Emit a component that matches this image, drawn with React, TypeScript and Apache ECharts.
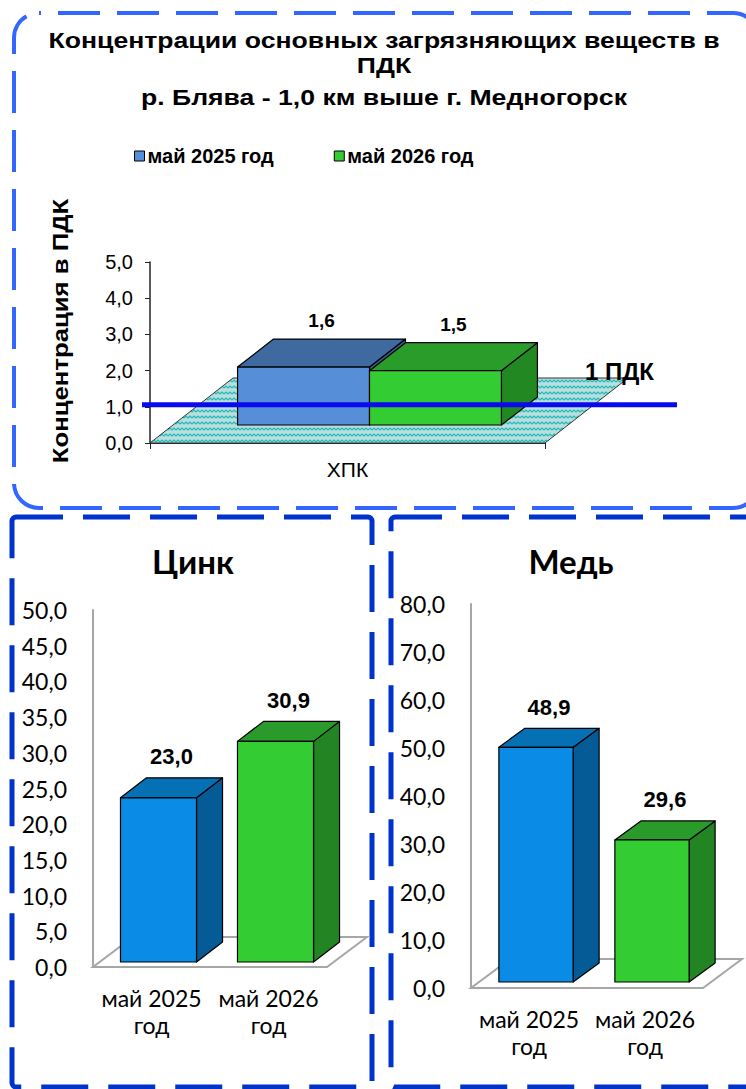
import React, { useEffect, useRef } from 'react';
import * as echarts from 'echarts';

// ---- data ----
const titleMain = 'Концентрации основных загрязняющих веществ в\nПДК';
const titleSub = 'р. Блява - 1,0 км выше г. Медногорск';
const seriesNames = ['май 2025 год', 'май 2026 год'];
const pdkAxisName = 'Концентрация в ПДК';
const pdkCategories = ['ХПК'];
const pdk2025 = [1.6];
const pdk2026 = [1.5];
const pdkLimit = 1;
const pdkLimitLabel = '1 ПДК';

const zincTitle = 'Цинк';
const zincCategories = ['май 2025\nгод', 'май 2026\nгод'];
const zincValues = [23.0, 30.9];

const copperTitle = 'Медь';
const copperCategories = ['май 2025\nгод', 'май 2026\nгод'];
const copperValues = [48.9, 29.6];

// ---- styles ----
const ARIAL = '"Liberation Sans", Arial, sans-serif';
const CALIBRI = 'Lato, "Open Sans", sans-serif';

const pdkColors = [
  { front: '#568fd8', top: '#3f6aa0', side: '#355d90' },
  { front: '#33cc33', top: '#2a9c2a', side: '#228822' },
];
const metalColors = [
  { front: '#0a8ce6', top: '#0670b5', side: '#045b96' },
  { front: '#33cc33', top: '#2a9a2a', side: '#228422' },
];

const fmt = (v: number) => v.toFixed(1).replace('.', ',');

function floorPattern() {
  const c = document.createElement('canvas');
  c.width = 8;
  c.height = 6;
  const g = c.getContext('2d')!;
  g.fillStyle = '#b8dede';
  g.fillRect(0, 0, 8, 6);
  g.strokeStyle = '#1fbaba';
  g.lineWidth = 1.2;
  g.beginPath();
  g.moveTo(0, 4);
  g.lineTo(2, 2);
  g.lineTo(4, 4);
  g.lineTo(6, 2);
  g.lineTo(8, 4);
  g.stroke();
  return { image: c.toDataURL(), repeat: 'repeat', imageWidth: 8, imageHeight: 6 };
}

type BoxCfg = {
  ratio: number; // bar width as share of the category band
  slots: number; // bars per category
  slot: number; // this bar's slot
  offX: number; // bar set back from the front plane
  offY: number;
  depX: number; // bar depth
  depY: number;
  colors: (dataIndex: number) => { front: string; top: string; side: string };
  label: { size: number; gap: number; family: string };
};

function boxRenderer(cfg: BoxCfg) {
  return (params: any, api: any) => {
    const cat = api.value(0);
    const v = api.value(1);
    const base = api.coord([cat, 0]);
    const tip = api.coord([cat, v]);
    const band = api.size([1, 0])[0];
    const w = band * cfg.ratio;
    const x0 = base[0] - (w * cfg.slots) / 2 + cfg.slot * w + cfg.offX;
    const x1 = x0 + w;
    const yb = base[1] - cfg.offY;
    const yt = tip[1] - cfg.offY;
    const dx = cfg.depX;
    const dy = cfg.depY;
    const c = cfg.colors(params.dataIndex);
    const edge = { stroke: '#000', lineWidth: 1.2, lineJoin: 'round' };
    return {
      type: 'group',
      children: [
        {
          type: 'polygon',
          shape: { points: [[x1, yb], [x1 + dx, yb - dy], [x1 + dx, yt - dy], [x1, yt]] },
          style: { fill: c.side, ...edge },
        },
        {
          type: 'polygon',
          shape: { points: [[x0, yt], [x0 + dx, yt - dy], [x1 + dx, yt - dy], [x1, yt]] },
          style: { fill: c.top, ...edge },
        },
        {
          type: 'rect',
          shape: { x: x0, y: yt, width: w, height: yb - yt },
          style: { fill: c.front, ...edge },
        },
        {
          type: 'text',
          x: (x0 + x1) / 2 + dx / 2,
          y: yt - dy - cfg.label.gap,
          style: {
            text: fmt(v),
            fontSize: cfg.label.size,
            fontWeight: 'bold',
            fontFamily: cfg.label.family,
            fill: '#000',
            align: 'center',
            verticalAlign: 'bottom',
          },
        },
      ],
    };
  };
}

function floorRenderer(depX: number, depY: number, style: any) {
  return (params: any) => {
    const r = params.coordSys;
    const yb = r.y + r.height;
    return {
      type: 'polygon',
      shape: {
        points: [
          [r.x, yb],
          [r.x + r.width, yb],
          [r.x + r.width + depX, yb - depY],
          [r.x + depX, yb - depY],
        ],
      },
      style,
    };
  };
}

export default function App() {
  const ref = useRef<HTMLDivElement>(null);

  useEffect(() => {
    if (!ref.current) return;
    const chart = echarts.init(ref.current, undefined, { renderer: 'svg' });

    const metalYAxis = (grid: number, max: number, interval: number) => ({
      type: 'value',
      gridIndex: grid,
      min: 0,
      max,
      interval,
      axisLine: { show: true, lineStyle: { color: '#a6a6a6', width: 2 } },
      axisTick: { show: false },
      splitLine: { show: false },
      axisLabel: {
        formatter: fmt,
        fontSize: 23,
        fontFamily: CALIBRI,
        color: '#000',
        margin: 26,
      },
    });
    const metalXAxis = (grid: number, data: string[]) => ({
      type: 'category',
      gridIndex: grid,
      data,
      axisLine: { show: false },
      axisTick: { show: false },
      axisLabel: {
        fontSize: 23,
        fontFamily: CALIBRI,
        color: '#000',
        lineHeight: 27,
        margin: 17,
        interval: 0,
      },
    });

    const option: any = {
      animation: false,
      backgroundColor: '#fff',
      legend: {
        data: seriesNames.map((n, i) => ({
          name: n,
          itemStyle: { color: pdkColors[i].front, borderColor: '#000', borderWidth: 1 },
        })),
        icon: 'rect',
        itemWidth: 10,
        itemHeight: 10,
        itemGap: 60,
        left: 129,
        top: 141,
        selectedMode: false,
        textStyle: {
          fontSize: 20,
          fontWeight: 'bold',
          fontFamily: ARIAL,
          color: '#000',
          padding: [0, 0, 0, -2],
        },
      },
      grid: [
        { left: 150, top: 262, width: 395, height: 181 },
        { left: 93, top: 610, width: 234, height: 357 },
        { left: 471, top: 604, width: 232, height: 384 },
      ],
      xAxis: [
        {
          type: 'category',
          gridIndex: 0,
          data: pdkCategories,
          axisLine: { show: true, lineStyle: { color: '#222', width: 1 } },
          axisTick: { show: true, length: 6, lineStyle: { color: '#222' } },
          axisLabel: { fontSize: 21, fontFamily: ARIAL, color: '#000', margin: 16 },
        },
        metalXAxis(1, zincCategories),
        metalXAxis(2, copperCategories),
      ],
      yAxis: [
        {
          type: 'value',
          gridIndex: 0,
          min: 0,
          max: 5,
          interval: 1,
          axisLine: { show: true, lineStyle: { color: '#222', width: 1.5 } },
          axisTick: { show: true, length: 5, lineStyle: { color: '#222' } },
          splitLine: { show: false },
          axisLabel: { formatter: fmt, fontSize: 20, fontFamily: ARIAL, color: '#000', margin: 17 },
        },
        metalYAxis(1, 50, 5),
        metalYAxis(2, 80, 10),
      ],
      series: [
        {
          type: 'custom',
          name: 'floor-pdk',
          xAxisIndex: 0,
          yAxisIndex: 0,
          z: 1,
          data: [[0, 0]],
          renderItem: floorRenderer(83, 65, { fill: floorPattern(), stroke: '#333', lineWidth: 1 }),
        },
        ...[pdk2025, pdk2026].map((vals, k) => ({
          type: 'custom',
          name: seriesNames[k],
          xAxisIndex: 0,
          yAxisIndex: 0,
          z: 2 + k,
          itemStyle: { color: pdkColors[k].front },
          data: vals.map((v, i) => [i, v]),
          renderItem: boxRenderer({
            ratio: 0.334,
            slots: 2,
            slot: k,
            offX: 22,
            offY: 18,
            depX: 36,
            depY: 28,
            colors: () => pdkColors[k],
            label: { size: 19, gap: 9, family: ARIAL },
          }),
        })),
        {
          type: 'custom',
          name: 'pdk-limit',
          xAxisIndex: 0,
          yAxisIndex: 0,
          z: 10,
          data: [[0, pdkLimit]],
          renderItem: (params: any, api: any) => {
            const r = params.coordSys;
            const y = api.coord([0, api.value(1)])[1] - 2;
            return {
              type: 'group',
              children: [
                {
                  type: 'line',
                  shape: { x1: r.x - 8, y1: y, x2: r.x + r.width + 132, y2: y },
                  style: { stroke: '#0a0aee', lineWidth: 5 },
                },
                {
                  type: 'text',
                  x: r.x + r.width + 40,
                  y: y - 33,
                  style: {
                    text: pdkLimitLabel,
                    fontSize: 24,
                    fontWeight: 'bold',
                    fontFamily: ARIAL,
                    fill: '#000',
                    align: 'left',
                    verticalAlign: 'middle',
                  },
                },
              ],
            };
          },
        },
        {
          type: 'custom',
          name: 'floor-zinc',
          xAxisIndex: 1,
          yAxisIndex: 1,
          z: 1,
          data: [[0, 0]],
          renderItem: floorRenderer(40, 30, { fill: '#fff', stroke: '#a6a6a6', lineWidth: 2 }),
        },
        {
          type: 'custom',
          name: zincTitle,
          xAxisIndex: 1,
          yAxisIndex: 1,
          z: 2,
          data: zincValues.map((v, i) => [i, v]),
          renderItem: boxRenderer({
            ratio: 0.65,
            slots: 1,
            slot: 0,
            offX: 7,
            offY: 5,
            depX: 26,
            depY: 20,
            colors: (i) => metalColors[i],
            label: { size: 22, gap: 10, family: ARIAL },
          }),
        },
        {
          type: 'custom',
          name: 'floor-copper',
          xAxisIndex: 2,
          yAxisIndex: 2,
          z: 1,
          data: [[0, 0]],
          renderItem: floorRenderer(39, 29, { fill: '#fff', stroke: '#a6a6a6', lineWidth: 2 }),
        },
        {
          type: 'custom',
          name: copperTitle,
          xAxisIndex: 2,
          yAxisIndex: 2,
          z: 2,
          data: copperValues.map((v, i) => [i, v]),
          renderItem: boxRenderer({
            ratio: 0.64,
            slots: 1,
            slot: 0,
            offX: 7,
            offY: 6,
            depX: 26,
            depY: 19,
            colors: (i) => metalColors[i],
            label: { size: 22, gap: 10, family: ARIAL },
          }),
        },
      ],
      graphic: [
        // panel frames
        {
          type: 'rect',
          shape: { x: 14, y: 13, width: 744, height: 495, r: 25 },
          style: { fill: 'none', stroke: '#3366ff', lineWidth: 4, lineDash: [42, 17], lineDashOffset: 40 },
          z: 0,
        },
        {
          type: 'rect',
          shape: { x: 12, y: 517, width: 360, height: 570, r: 4 },
          style: { fill: 'none', stroke: '#0033cc', lineWidth: 5, lineDash: [47, 20] },
          z: 0,
        },
        {
          type: 'rect',
          shape: { x: 391, y: 517, width: 380, height: 570, r: 4 },
          style: { fill: 'none', stroke: '#0033cc', lineWidth: 5, lineDash: [47, 20] },
          z: 0,
        },
        // titles
        {
          type: 'text',
          x: 384,
          y: 28,
          scaleX: 1.21,
          style: {
            text: titleMain,
            fontSize: 22,
            fontWeight: 'bold',
            fontFamily: ARIAL,
            lineHeight: 25,
            fill: '#000',
            align: 'center',
            verticalAlign: 'top',
          },
        },
        {
          type: 'text',
          x: 384,
          y: 86,
          scaleX: 1.21,
          style: {
            text: titleSub,
            fontSize: 22,
            fontWeight: 'bold',
            fontFamily: ARIAL,
            fill: '#000',
            align: 'center',
            verticalAlign: 'top',
          },
        },
        {
          type: 'text',
          x: 60,
          y: 331,
          rotation: Math.PI / 2,
          scaleX: 1.17,
          style: {
            text: pdkAxisName,
            fontSize: 22,
            fontWeight: 'bold',
            fontFamily: ARIAL,
            fill: '#000',
            align: 'center',
            verticalAlign: 'middle',
          },
        },
        {
          type: 'text',
          x: 193,
          y: 561,
          style: {
            text: zincTitle,
            fontSize: 33,
            fontWeight: 'bold',
            fontFamily: CALIBRI,
            fill: '#000',
            align: 'center',
            verticalAlign: 'middle',
          },
        },
        {
          type: 'text',
          x: 571,
          y: 561,
          style: {
            text: copperTitle,
            fontSize: 33,
            fontWeight: 'bold',
            fontFamily: CALIBRI,
            fill: '#000',
            align: 'center',
            verticalAlign: 'middle',
          },
        },
      ],
    };

    chart.setOption(option);
    return () => chart.dispose();
  }, []);

  return (
    <div
      ref={ref}
      style={{ position: 'fixed', left: 0, top: 0, width: 746, height: 1089, background: '#fff' }}
    />
  );
}
